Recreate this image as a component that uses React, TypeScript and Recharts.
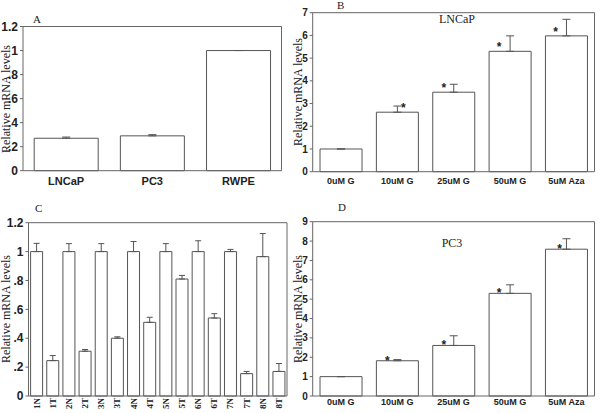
import { Bar, BarChart, ErrorBar, LabelList, XAxis, YAxis } from 'recharts'

// panel A – basal expression in cell lines
const cellLines = ['LNCaP', 'PC3', 'RWPE']
const cellLevels = [0.27, 0.29, 1.0]
const cellErr = [0.01, 0.01, 0]

// panels B and D – treatments
const treatments = ['0uM G', '10uM G', '25uM G', '50uM G', '5uM Aza']
const lncapLevels = [1.0, 2.62, 3.5, 5.3, 5.98]
const lncapErr = [0, 0.27, 0.35, 0.68, 0.73]
const lncapSig = [false, true, true, true, true]
const pc3Levels = [1.0, 1.82, 2.61, 5.3, 7.58]
const pc3Err = [0, 0.06, 0.5, 0.44, 0.54]
const pc3Sig = [false, true, true, true, true]

// panel C – paired normal / tumour tissue
const samples = ['1N', '1T', '2N', '2T', '3N', '3T', '4N', '4T', '5N', '5T', '6N', '6T', '7N', '7T', '8N', '8T']
const tissueLevels = [1, 0.245, 1, 0.31, 1, 0.4, 1, 0.51, 1, 0.81, 1, 0.54, 1, 0.155, 0.965, 0.17]
const tissueErr = [0.057, 0.035, 0.055, 0.012, 0.055, 0.01, 0.07, 0.035, 0.055, 0.025, 0.075, 0.03, 0.015, 0.015, 0.16, 0.055]

const fracTicks = [0, 0.2, 0.4, 0.6, 0.8, 1, 1.2]
const lncapTicks = [0, 1, 2, 3, 4, 5, 6, 7]
const pc3Ticks = [0, 1, 2, 3, 4, 5, 6, 7, 8, 9]

const SANS = '"Liberation Sans", Arial, sans-serif'
const SERIF = '"Liberation Serif", "Times New Roman", serif'
const AXIS = '#666'
const BAR = '#555'
const INK = '#222'

const build = (names: string[], vals: number[], errs: number[], sig?: boolean[]) =>
  names.map((name, i) => ({ name, value: vals[i], err: [0, errs[i]], sig: sig ? sig[i] : false }))

const minor = (max: number, step: number) => {
  const out: number[] = []
  for (let i = 0; i * step <= max + 1e-9; i++) out.push(+(i * step).toFixed(3))
  return out
}

const fracFmt = (v: number) => (v === 0 || v === 1 ? String(v) : String(v).replace(/^0/, ''))

// star offsets relative to bar centre
const starDxB = [0, 6, -10, -11, -11]
const starDxD = [0, -10, -10, -11, -7]

const starRenderer = (dxs: number[], dy: number) => (p: any) => {
  if (!p.value) return null
  const cx = p.x + p.width / 2 + dxs[p.index]
  return (
    <text x={cx} y={p.y + dy} textAnchor="middle" fontFamily={SANS} fontWeight="bold" fontSize={12} fill={INK}>
      *
    </text>
  )
}

// rotated sample labels for panel C (anchored just under the axis)
const RotTick = (p: any) => {
  const y = p.y - p.tickSizeFix
  return (
    <text
      x={p.x}
      y={y}
      transform={`rotate(-90 ${p.x} ${y})`}
      textAnchor="end"
      dominantBaseline="central"
      fontFamily={SERIF}
      fontWeight="bold"
      fontSize={9}
      fill={INK}
    >
      {p.payload.value}
    </text>
  )
}

type PanelProps = {
  left: number
  top: number
  width: number
  height: number
  data: any[]
  max: number
  ticks: number[]
  rightTicks: number[]
  margin: { top: number; right: number; bottom: number; left: number }
  yWidth: number
  rWidth: number
  xHeight: number
  xTickSize: number
  yFont: number
  xTick: any
  topTicks?: boolean
  fmt?: (v: number) => string
  star?: (p: any) => any
  capWidth?: number
}

function Panel(p: PanelProps) {
  return (
    <div style={{ position: 'absolute', left: p.left, top: p.top }}>
      <BarChart width={p.width} height={p.height} data={p.data} margin={p.margin} barCategoryGap="13%">
        <XAxis
          dataKey="name"
          xAxisId="bottom"
          height={p.xHeight}
          stroke={AXIS}
          tickLine={false}
          tickSize={p.xTickSize}
          tickMargin={0}
          interval={0}
          tick={p.xTick}
        />
        <XAxis
          dataKey="name"
          xAxisId="top"
          orientation="top"
          height={1}
          stroke={AXIS}
          tick={false}
          tickLine={p.topTicks ? { stroke: AXIS } : false}
          tickSize={3}
        />
        <YAxis
          yAxisId="left"
          width={p.yWidth}
          domain={[0, p.max]}
          ticks={p.ticks}
          interval={0}
          stroke={AXIS}
          tickSize={3}
          tickMargin={2}
          tickFormatter={p.fmt}
          tick={{ fontFamily: SANS, fontWeight: 'bold', fontSize: p.yFont, fill: INK }}
        />
        <YAxis
          yAxisId="right"
          orientation="right"
          width={p.rWidth}
          domain={[0, p.max]}
          ticks={p.rightTicks}
          interval={0}
          stroke={AXIS}
          tickSize={2}
          tick={false}
        />
        <Bar
          dataKey="value"
          xAxisId="bottom"
          yAxisId="left"
          fill="#fff"
          stroke={BAR}
          strokeWidth={1}
          isAnimationActive={false}
        >
          <ErrorBar dataKey="err" direction="y" width={p.capWidth ?? 4} stroke={BAR} strokeWidth={1} isAnimationActive={false} />
          {p.star ? <LabelList dataKey="sig" content={p.star} /> : null}
        </Bar>
      </BarChart>
    </div>
  )
}

const bigTick = { fontFamily: SANS, fontWeight: 'bold', fontSize: 11, fill: INK }
const smallTick = { fontFamily: SANS, fontWeight: 'bold', fontSize: 9, fill: INK }

function YLabel({ x, y }: { x: number; y: number }) {
  return (
    <text
      x={x}
      y={y}
      transform={`rotate(-90 ${x} ${y})`}
      textAnchor="middle"
      dominantBaseline="central"
      fontFamily={SERIF}
      fontSize={12}
      fill={INK}
    >
      Relative mRNA levels
    </text>
  )
}

export default function App() {
  return (
    <div style={{ position: 'absolute', left: 0, top: 0, width: 600, height: 413, background: '#fff', overflow: 'hidden' }}>
      <Panel
        left={0}
        top={0}
        width={300}
        height={200}
        data={build(cellLines, cellLevels, cellErr)}
        max={1.2}
        ticks={fracTicks}
        rightTicks={fracTicks}
        margin={{ top: 25.5, right: 8.5, bottom: 9.3, left: 0 }}
        yWidth={23}
        rWidth={10}
        xHeight={20}
        xTickSize={6}
        yFont={12}
        xTick={bigTick}
        topTicks
        fmt={fracFmt}
      />
      <Panel
        left={300}
        top={0}
        width={300}
        height={200}
        data={build(treatments, lncapLevels, lncapErr, lncapSig)}
        max={7}
        ticks={lncapTicks}
        rightTicks={minor(7, 0.2)}
        margin={{ top: 11.7, right: 1.5, bottom: 8.3, left: 0 }}
        yWidth={12.7}
        rWidth={4}
        xHeight={20}
        xTickSize={6}
        yFont={10}
        xTick={smallTick}
        star={starRenderer(starDxB, 0)}
      />
      <Panel
        left={0}
        top={200}
        width={300}
        height={213}
        data={build(samples, tissueLevels, tissueErr)}
        max={1.2}
        ticks={fracTicks}
        rightTicks={fracTicks}
        margin={{ top: 21.7, right: 5, bottom: 2, left: 0 }}
        yWidth={28.5}
        rWidth={8}
        xHeight={15}
        xTickSize={1}
        yFont={12}
        xTick={<RotTick tickSizeFix={-1} />}
        topTicks
        fmt={fracFmt}
        capWidth={3}
      />
      <Panel
        left={300}
        top={200}
        width={300}
        height={213}
        data={build(treatments, pc3Levels, pc3Err, pc3Sig)}
        max={9}
        ticks={pc3Ticks}
        rightTicks={minor(9, 0.2)}
        margin={{ top: 20.7, right: 1.5, bottom: 5, left: 0 }}
        yWidth={12.7}
        rWidth={4}
        xHeight={12}
        xTickSize={3}
        yFont={10}
        xTick={smallTick}
        star={starRenderer(starDxD, 4)}
      />
      <svg width={600} height={413} style={{ position: 'absolute', left: 0, top: 0, pointerEvents: 'none' }}>
        <text x={33} y={23} fontFamily={SERIF} fontSize={11} fill={INK}>A</text>
        <text x={337} y={9} fontFamily={SERIF} fontSize={11} fill={INK}>B</text>
        <text x={35} y={212} fontFamily={SERIF} fontSize={11} fill={INK}>C</text>
        <text x={338} y={211} fontFamily={SERIF} fontSize={11} fill={INK}>D</text>
        <text x={457} y={23} textAnchor="middle" fontFamily={SERIF} fontSize={12} fill={INK}>LNCaP</text>
        <text x={452} y={247} textAnchor="middle" fontFamily={SERIF} fontSize={12} fill={INK}>PC3</text>
        <YLabel x={6} y={99} />
        <YLabel x={298} y={92} />
        <YLabel x={6} y={309} />
        <YLabel x={298} y={309} />
      </svg>
    </div>
  )
}
